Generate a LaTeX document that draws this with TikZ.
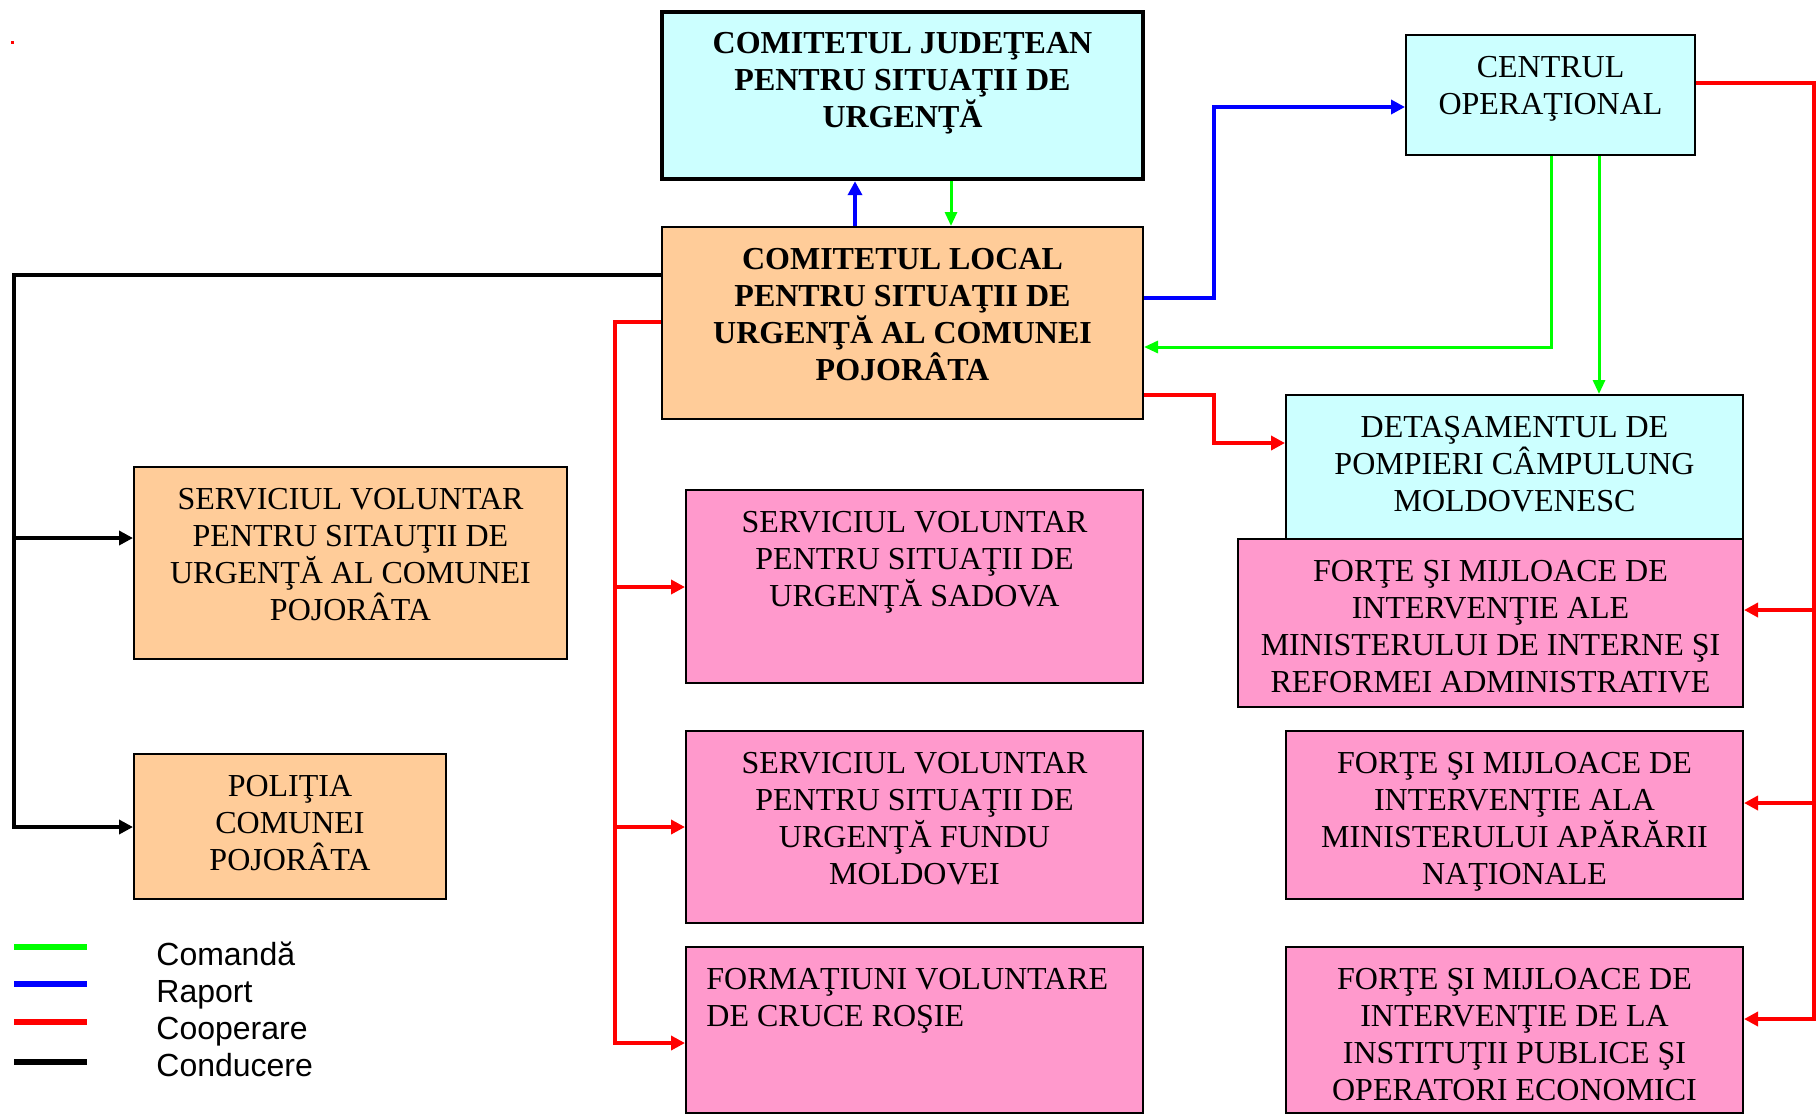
\documentclass[tikz,border=0pt]{standalone}
\usepackage{fontspec}
\setmainfont{Liberation Serif}
\newfontfamily\legendfont{Liberation Sans}
\usetikzlibrary{arrows.meta,positioning,fit}

\definecolor{boxcyan}{HTML}{CCFFFF}
\definecolor{boxorange}{HTML}{FFCC99}
\definecolor{boxpink}{HTML}{FF99CC}
\definecolor{linegreen}{HTML}{00FF00}
\definecolor{lineblue}{HTML}{0000FF}
\definecolor{linered}{HTML}{FF0000}

\tikzset{
  unitbox/.style={draw=black, line width=1pt, inner sep=0pt},
  cyanbox/.style={unitbox, fill=boxcyan},
  orangebox/.style={unitbox, fill=boxorange},
  pinkbox/.style={unitbox, fill=boxpink},
  boxtext/.style={inner sep=0pt, align=center, font=\fontsize{16}{18.5}\selectfont},
  boldtext/.style={boxtext, font=\fontsize{16}{18.5}\selectfont\bfseries},
  legendtext/.style={inner sep=0pt, font=\legendfont\fontsize{16}{18.5}\selectfont},
  comanda/.style={draw=linegreen, line width=1.5pt, -{Triangle[length=7pt,width=6pt]}},
  raport/.style={draw=lineblue, line width=2pt, -{Triangle[length=7pt,width=7pt]}},
  cooperare/.style={draw=linered, line width=2pt, -{Triangle[length=7pt,width=7pt]}},
  conducere/.style={draw=black, line width=2pt, -{Triangle[length=7pt,width=7pt]}},
}

\begin{document}
\begin{tikzpicture}[x=0.5pt,y=-0.5pt]
  \useasboundingbox (0,0) rectangle (1818,1115);
  \fill[linered] (11,41) rectangle (14,44);

  % boxes
  \node[cyanbox, line width=2.2pt, fit={(662,12) (1143,179)}] (judet) {};
  \node[orangebox, fit={(662,227) (1143,419)}] (local) {};
  \node[cyanbox, fit={(1406,35) (1695,155)}] (centrul) {};
  \node[cyanbox, fit={(1286,395) (1743,539)}] (detas) {};
  \node[pinkbox, fit={(1238,539) (1743,707)}] (mira) {};
  \node[pinkbox, fit={(1286,731) (1743,899)}] (mapn) {};
  \node[pinkbox, fit={(1286,947) (1743,1113)}] (instit) {};
  \node[orangebox, fit={(134,467) (567,659)}] (svpoj) {};
  \node[orangebox, fit={(134,754) (446,899)}] (politia) {};
  \node[pinkbox, fit={(686,490) (1143,683)}] (sadova) {};
  \node[pinkbox, fit={(686,731) (1143,923)}] (fundu) {};
  \node[pinkbox, fit={(686,947) (1143,1113)}] (formatiuni) {};

  % texts
  \node[boldtext, below=11pt of judet.north] (judetT) {COMITETUL JUDEŢEAN\\PENTRU SITUAŢII DE\\URGENŢĂ};
  \node[boldtext, below=11pt of local.north] (localT) {COMITETUL LOCAL\\PENTRU SITUAŢII DE\\URGENŢĂ AL COMUNEI\\POJORÂTA};
  \node[boxtext, below=11pt of centrul.north] (centrulT) {CENTRUL\\OPERAŢIONAL};
  \node[boxtext, below=11pt of detas.north] (detasT) {DETAŞAMENTUL DE\\POMPIERI CÂMPULUNG\\MOLDOVENESC};
  \node[boxtext, below=11pt of mira.north] (miraT) {FORŢE ŞI MIJLOACE DE\\INTERVENŢIE ALE\\MINISTERULUI DE INTERNE ŞI\\REFORMEI ADMINISTRATIVE};
  \node[boxtext, below=11pt of mapn.north] (mapnT) {FORŢE ŞI MIJLOACE DE\\INTERVENŢIE ALA\\MINISTERULUI APĂRĂRII\\NAŢIONALE};
  \node[boxtext, below=11pt of instit.north] (institT) {FORŢE ŞI MIJLOACE DE\\INTERVENŢIE DE LA\\INSTITUŢII PUBLICE ŞI\\OPERATORI ECONOMICI};
  \node[boxtext, below=11pt of svpoj.north] (svpojT) {SERVICIUL VOLUNTAR\\PENTRU SITAUŢII DE\\URGENŢĂ AL COMUNEI\\POJORÂTA};
  \node[boxtext, below=11pt of politia.north] (politiaT) {POLIŢIA\\COMUNEI\\POJORÂTA};
  \node[boxtext, below=11pt of sadova.north] (sadovaT) {SERVICIUL VOLUNTAR\\PENTRU SITUAŢII DE\\URGENŢĂ SADOVA};
  \node[boxtext, below=11pt of fundu.north] (funduT) {SERVICIUL VOLUNTAR\\PENTRU SITUAŢII DE\\URGENŢĂ FUNDU\\MOLDOVEI};
  \node[boxtext, align=left, anchor=north west] (formatiuniT) at ([xshift=10.5pt,yshift=-11pt]formatiuni.north west) {FORMAŢIUNI VOLUNTARE\\DE CRUCE ROŞIE};

  % bends
  \coordinate (leadbus) at (14,538);
  \coordinate (leftbus) at (615,587);
  \coordinate (midbus) at (615,827);
  \coordinate (rightbus) at (1814,610);
  \coordinate (rightbusB) at (1814,803);

  % conducere
  \draw[conducere] (local.west |- 0,275) -| (14,827) -- (politia.west |- 0,827);
  \draw[conducere] (leadbus) -- (svpoj.west |- leadbus);

  % raport
  \draw[raport] (local.north -| 855,0) -- (judet.south -| 855,0);
  \draw[raport] (local.east |- 0,298) -| (1214,107) -- (centrul.west |- 0,107);

  % comanda
  \draw[comanda] (judet.south -| 951,0) -- (local.north -| 951,0);
  \draw[comanda] (centrul.south -| 1551,0) |- (local.east |- 0,347);
  \draw[comanda] (centrul.south -| 1599,0) -- (detas.north -| 1599,0);

  % cooperare
  \draw[cooperare] (local.east |- 0,395) -| (1214,443) -- (detas.west |- 0,443);
  \draw[cooperare] (centrul.east |- 0,83) -| (1814,1019) -- (instit.east |- 0,1019);
  \draw[cooperare] (rightbus) -- (mira.east |- rightbus);
  \draw[cooperare] (rightbusB) -- (mapn.east |- rightbusB);
  \draw[cooperare] (local.west |- 0,322) -| (615,1043) -- (formatiuni.west |- 0,1043);
  \draw[cooperare] (leftbus) -- (sadova.west |- leftbus);
  \draw[cooperare] (midbus) -- (fundu.west |- midbus);

  % legend
  \foreach \col/\txt/\yy/\yb [count=\i] in {linegreen/Comandă/947/965, lineblue/Raport/984/1002, linered/Cooperare/1022/1039, black/Conducere/1062/1076}{
    \draw[draw=\col, line width=3pt] (14,\yy) -- (87,\yy);
    \node[legendtext, anchor=base west] (legend\i) at (156,\yb) {\txt};
  }
\end{tikzpicture}
\end{document}
